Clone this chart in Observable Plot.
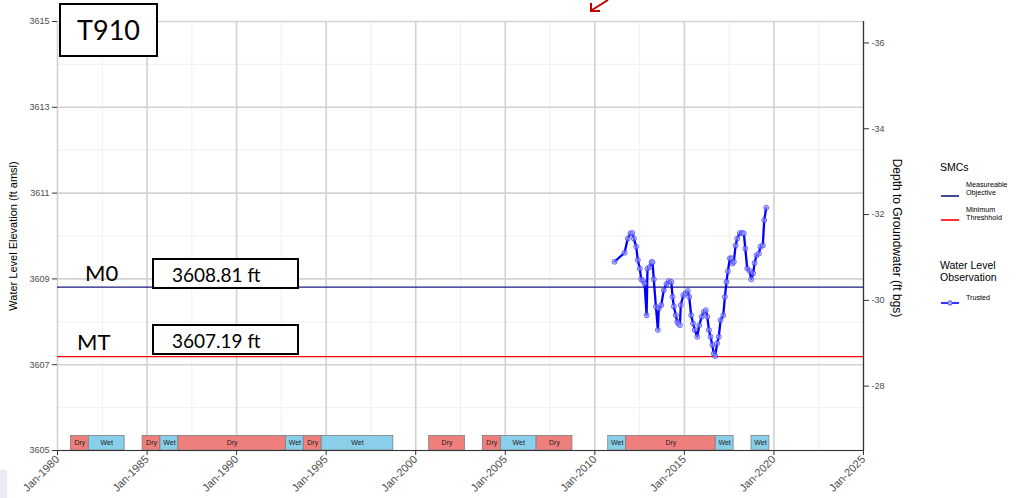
<!DOCTYPE html>
<html><head><meta charset="utf-8">
<script src="https://cdn.jsdelivr.net/npm/d3@7"></script>
<script src="https://cdn.jsdelivr.net/npm/@observablehq/plot@0.6"></script>
<style>
body{margin:0;background:#fff;}
#wrap{position:relative;width:1019px;height:498px;overflow:hidden;font-family:"Liberation Sans",Arial,sans-serif;background:#fff;}
#wrap svg.plot{position:absolute;left:0;top:0;}
.box{position:absolute;border:2px solid #000;background:#fff;box-sizing:border-box;font-family:Lato,sans-serif;color:#000;white-space:nowrap;}
.lab{position:absolute;font-family:Lato,sans-serif;color:#000;white-space:nowrap;line-height:1;}
.atitle{position:absolute;white-space:nowrap;color:#000;line-height:1;}
.leg{position:absolute;color:#000;white-space:nowrap;line-height:1;}
</style>
</head><body>
<div id="wrap"></div>
<script>
// ---------------- data ----------------
const wellName = "T910";
const moValue = 3608.81;       // Measureable Objective
const mtValue = 3607.19;       // Minimum Threshhold
const moLabel = "3608.81 ft";
const mtLabel = "3607.19 ft";
const depthOffset = 3578.5;    // depth (ft bgs, right axis) = depthOffset - elevation

const yTicks = [3605, 3607, 3609, 3611, 3613, 3615];
const yMinor = [3606, 3608, 3610, 3612, 3614];
const depthTicks = [-36, -34, -32, -30, -28];
const xTickYears = [1980, 1985, 1990, 1995, 2000, 2005, 2010, 2015, 2020, 2025];
const xMinorYears = [1982.5, 1987.5, 1992.5, 1997.5, 2002.5, 2007.5, 2012.5, 2017.5, 2022.5];

const periodType  = ["Dry","Wet","Dry","Wet","Dry","Wet","Dry","Wet","Dry","Dry","Wet","Dry","Wet","Dry","Wet","Wet"];
const periodStart = ["1980-10-01","1981-10-01","1984-10-01","1985-10-01","1986-10-01","1992-10-01","1993-10-01","1994-10-01","2000-10-01","2003-10-01","2004-10-01","2006-10-01","2010-10-01","2011-10-01","2016-10-01","2018-10-01"];
const periodEnd   = ["1981-10-01","1983-10-01","1985-10-01","1986-10-01","1992-10-01","1993-10-01","1994-10-01","1998-10-01","2002-10-01","2004-10-01","2006-10-01","2008-10-01","2011-10-01","2016-10-01","2017-10-01","2019-10-01"];
const periodBarTop = 3605.34;

// observation dates (decimal years) and water level elevations (ft amsl)
const obsYear = [2011.10,2011.66,2011.84,2011.99,2012.09,2012.18,2012.31,2012.40,2012.51,2012.59,2012.70,2012.78,2012.89,2012.94,
  2013.07,2013.17,2013.22,2013.29,2013.41,2013.52,2013.57,2013.71,2013.85,2014.00,2014.13,2014.27,2014.34,2014.41,2014.52,2014.60,
  2014.67,2014.75,2014.80,2014.94,2015.06,2015.19,2015.27,2015.38,2015.49,2015.58,2015.72,2015.83,2015.97,2016.09,2016.20,2016.28,
  2016.37,2016.46,2016.56,2016.64,2016.72,2016.83,2016.92,2017.02,2017.17,2017.26,2017.35,2017.43,2017.54,2017.63,2017.69,2017.76,
  2017.86,2017.95,2018.10,2018.23,2018.32,2018.40,2018.51,2018.65,2018.73,2018.84,2018.92,2019.03,2019.16,2019.25,2019.38,2019.46,2019.57];
const obsElev = [3609.40,3609.61,3609.94,3610.06,3610.07,3609.94,3609.75,3609.44,3609.24,3608.99,3608.95,3608.89,3608.15,3609.24,
  3609.28,3609.39,3609.39,3608.99,3608.35,3607.81,3608.31,3608.39,3608.74,3608.88,3608.95,3608.93,3608.58,3608.36,3608.15,3608.00,
  3607.96,3607.92,3608.39,3608.62,3608.66,3608.72,3608.58,3608.15,3607.96,3607.81,3607.65,3607.92,3608.12,3608.23,3608.27,3608.12,
  3607.81,3607.65,3607.46,3607.26,3607.20,3607.50,3607.65,3608.04,3608.15,3608.58,3608.93,3609.18,3609.48,3609.48,3609.36,3609.40,
  3609.78,3609.94,3610.07,3610.07,3610.06,3609.71,3609.24,3609.18,3608.99,3609.13,3609.37,3609.55,3609.59,3609.75,3609.78,3610.37,3610.66];

// ---------------- helpers ----------------
function decYear(y){
  const yr = Math.floor(y);
  const a = Date.UTC(yr,0,1), b = Date.UTC(yr+1,0,1);
  return new Date(a + (y-yr)*(b-a));
}
const parse = d3.utcParse("%Y-%m-%d");
const obs = obsYear.map((y,i)=>({date:decYear(y), elev:obsElev[i]}));
const periods = periodType.map((t,i)=>{
  const s = parse(periodStart[i]), e = parse(periodEnd[i]);
  return {type:t, start:s, end:e, mid:new Date((+s + +e)/2)};
});
const xMajor = xTickYears.map(y=>new Date(Date.UTC(y,0,1)));
const xMinor = xMinorYears.map(decYear);
const xDomain = [xMajor[0], xMajor[xMajor.length-1]];

const navy = "#1a1a80", red = "#ff0000", obsBlue = "#0000ff";
const periodColor = {Dry:"#ef7f7d", Wet:"#89cfe9"};

const chart = Plot.plot({
  width: 1019, height: 498,
  marginLeft: 57, marginRight: 156, marginTop: 21, marginBottom: 48,
  x: {type:"utc", domain: xDomain},
  y: {domain: [3605, 3615]},
  style: {fontFamily:'"Liberation Sans", Arial, sans-serif', fontSize:"9px", color:"#4d4d4d", background:"transparent"},
  marks: [
    Plot.gridX(xMinor, {stroke:"#ececec", strokeOpacity:1, strokeWidth:0.8}),
    Plot.gridY(yMinor, {stroke:"#ececec", strokeOpacity:1, strokeWidth:0.8}),
    Plot.gridX(xMajor, {stroke:"#d2d2d2", strokeOpacity:1, strokeWidth:1.6}),
    Plot.gridY(yTicks, {stroke:"#d2d2d2", strokeOpacity:1, strokeWidth:1.6}),
    Plot.axisX(xMajor, {tickFormat: d3.utcFormat("Jan-%Y"), tickRotate:-45, tickSize:5, tickPadding:2, label:null, stroke:"#333", fontSize:11}),
    Plot.axisY(yTicks, {anchor:"left", tickSize:5, tickPadding:3, label:null, tickFormat:d=>String(d), stroke:"#333"}),
    Plot.axisY(depthTicks.map(d=>depthOffset - d), {anchor:"right", tickSize:5, tickPadding:3, label:null,
      tickFormat: v => String(Math.round(depthOffset - v)), stroke:"#333"}),
    Plot.ruleY([moValue], {stroke:navy, strokeWidth:1.3}),
    Plot.ruleY([mtValue], {stroke:red, strokeWidth:1.3}),
    Plot.rect(periods, {x1:"start", x2:"end", y1:()=>3605, y2:()=>periodBarTop,
      fill:d=>periodColor[d.type], stroke:"#7f7f7f", strokeWidth:0.8}),
    Plot.text(periods, {x:"mid", y:()=> (3605+periodBarTop)/2, text:"type", fill:"#222", fontSize:7}),
    Plot.line(obs, {x:"date", y:"elev", stroke:obsBlue, strokeWidth:2.3}),
    Plot.dot(obs, {x:"date", y:"elev", r:2.5, stroke:"#3030ff", strokeWidth:0.9, strokeOpacity:0.75, fill:"#b8b8ff", fillOpacity:0.5}),
    Plot.ruleX([xDomain[1]], {stroke:"#333", strokeWidth:1.2}),
    Plot.ruleY([3605], {stroke:"#333", strokeWidth:1.2})
  ]
});
chart.classList.add("plot");
const wrap = document.getElementById("wrap");
wrap.appendChild(chart);

const ys = chart.scale("y");
const yMO = ys.apply(moValue), yMT = ys.apply(mtValue);

function add(cls, html, css){
  const d = document.createElement("div");
  d.className = cls; d.innerHTML = html;
  Object.assign(d.style, css);
  wrap.appendChild(d);
  return d;
}
// title box
add("box", wellName, {left:"59px", top:"3px", width:"99px", height:"54px", fontSize:"27px", lineHeight:"50px", textAlign:"center"});
// MO / MT labels
add("lab", "M0", {left:"85px", top:(yMO-25)+"px", fontSize:"22px"});
add("lab", "MT", {left:"77px", top:(yMT-25)+"px", fontSize:"22px"});
add("box", moLabel, {left:"152px", top:(yMO-29)+"px", width:"147px", height:"31px", fontSize:"19px", lineHeight:"29px", paddingLeft:"18px"});
add("box", mtLabel, {left:"152px", top:(yMT-32)+"px", width:"147px", height:"31px", fontSize:"19px", lineHeight:"29px", paddingLeft:"18px"});

// axis titles
add("atitle", "Water Level Elevation (ft amsl)", {left:"13px", top:"236px", fontSize:"11px", transform:"translate(-50%,-50%) rotate(-90deg)"});
add("atitle", "Depth to Groundwater (ft bgs)", {left:"897px", top:"238px", fontSize:"12px", transform:"translate(-50%,-50%) rotate(90deg)"});

// legend
add("leg", "SMCs", {left:"940px", top:"162px", fontSize:"10.5px"});
add("leg", `<svg width="20" height="6"><line x1="1" y1="3" x2="19" y2="3" stroke="${navy}" stroke-width="1.6"/></svg>`, {left:"940px", top:"186px"});
add("leg", "Measureable<br>Objective", {left:"966px", top:"181px", fontSize:"7.2px", lineHeight:"8px"});
add("leg", `<svg width="20" height="6"><line x1="1" y1="3" x2="19" y2="3" stroke="${red}" stroke-width="1.6"/></svg>`, {left:"940px", top:"210px"});
add("leg", "Minimum<br>Threshhold", {left:"966px", top:"206px", fontSize:"7.2px", lineHeight:"8px"});
add("leg", "Water Level<br>Observation", {left:"940px", top:"260px", fontSize:"10.5px", lineHeight:"11.5px"});
add("leg", `<svg width="20" height="8"><line x1="1" y1="4" x2="19" y2="4" stroke="${obsBlue}" stroke-width="1.6"/><circle cx="10" cy="4" r="2.2" fill="#b8b8ff" stroke="#3030ff" stroke-width="0.8"/></svg>`, {left:"940px", top:"294px"});
add("leg", "Trusted", {left:"966px", top:"294px", fontSize:"7.2px"});

// decorations
add("leg", `<svg width="30" height="16"><path d="M24,0 L8,10 M7,3 L7,11 L16,11" fill="none" stroke="#c00000" stroke-width="2"/></svg>`, {left:"584px", top:"0px"});
add("leg", "", {left:"0px", top:"470px", width:"7px", height:"28px", background:"#ebebf8"});
</script>
</body></html>
